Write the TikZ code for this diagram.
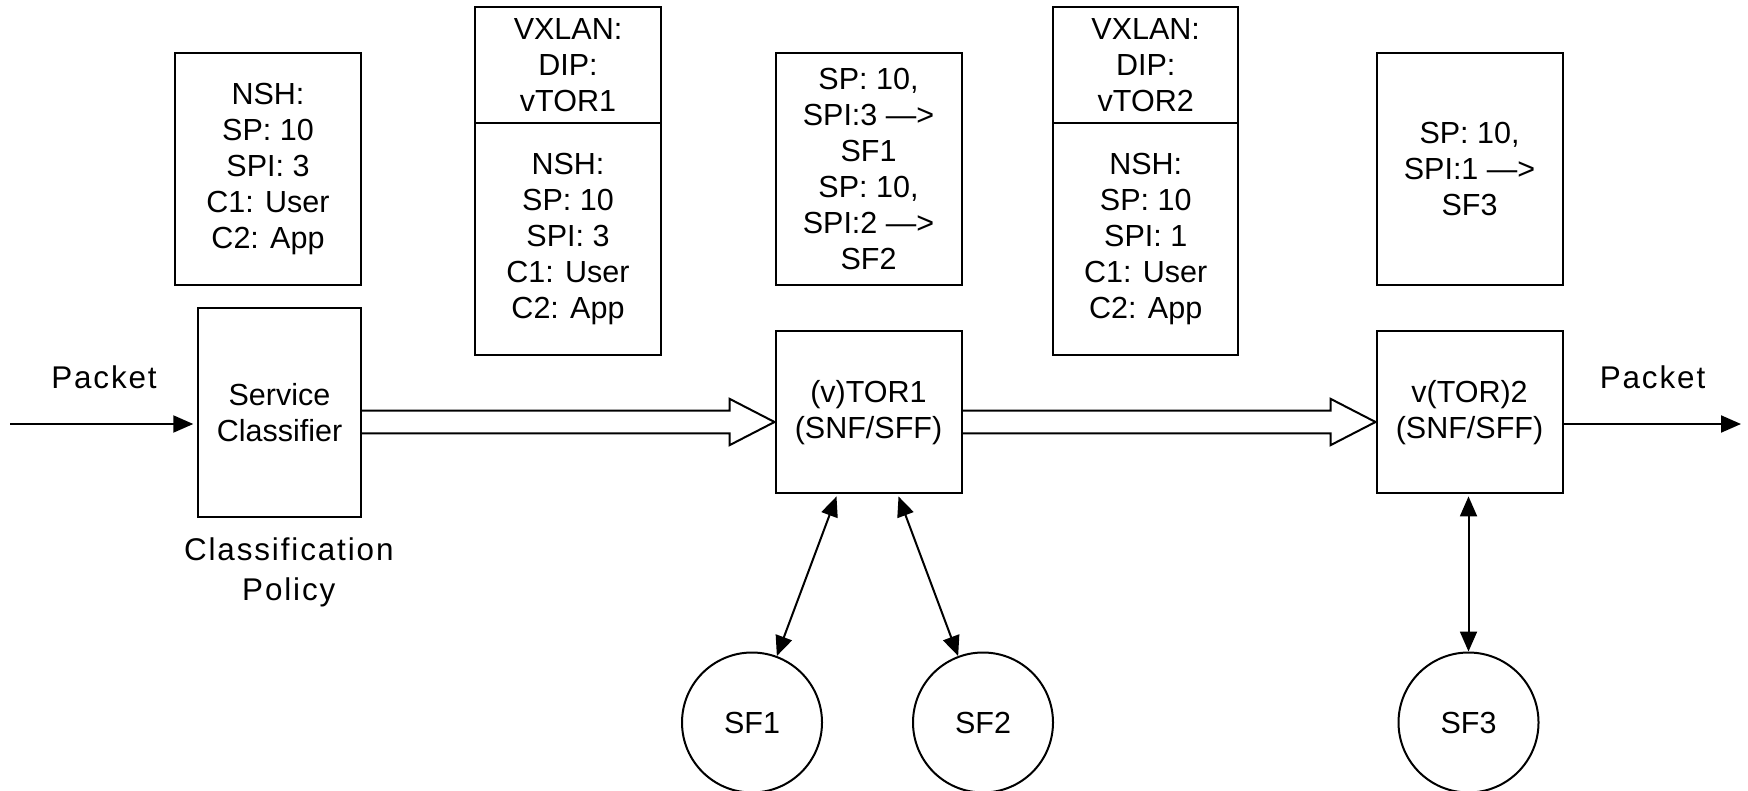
\documentclass[tikz,border=0pt]{standalone}
\usepackage{fontspec}
\setmainfont{Liberation Sans}
\newfontfamily\lblfont[LetterSpace=6]{Liberation Sans}
\usetikzlibrary{calc,arrows.meta}
\newcommand\boxfnt{\fontsize{15.25pt}{18pt}\selectfont}
\newcommand\lblfnt{\lblfont\fontsize{15.7pt}{20pt}\selectfont}
\begin{document}
\begin{tikzpicture}[x=0.5pt,y=-0.5pt,
  box/.style={draw,line width=1pt,rectangle,inner sep=0pt,align=center,font=\boxfnt},
  sfc/.style={draw,line width=1pt,circle,inner sep=0pt,minimum size=70pt,font=\boxfnt},
  lbl/.style={inner sep=0pt,align=center,font=\lblfnt},
  conn/.style={line width=1pt},
  tip/.style={-{Triangle[length=10pt,width=8.5pt]}},
  dtip/.style={{Triangle[length=10pt,width=8.5pt]}-{Triangle[length=10pt,width=8.5pt]}},
  hollow/.style={line width=1pt,line join=miter}]
\useasboundingbox (0,0) rectangle (1748,791);
% top header boxes
\node[box,minimum width=93pt,minimum height=116.3pt] (nsh1) at (268,169) {NSH:\\SP: 10\\SPI: 3\\C1: User\\C2: App};
\node[box,minimum width=92.7pt,minimum height=58.3pt] (vx1a) at (568,65) {VXLAN:\\DIP:\\vTOR1};
\node[box,minimum width=92.7pt,minimum height=115.9pt] (vx1b) at (568,239.2) {NSH:\\SP: 10\\SPI: 3\\C1: User\\C2: App};
\node[box,minimum width=93pt,minimum height=116.3pt] (sp) at (868.5,169) {SP: 10,\\SPI:3 --->\\SF1\\SP: 10,\\SPI:2 --->\\SF2};
\node[box,minimum width=92.7pt,minimum height=58.3pt] (vx2a) at (1145.7,65) {VXLAN:\\DIP:\\vTOR2};
\node[box,minimum width=92.7pt,minimum height=115.9pt] (vx2b) at (1145.7,239.2) {NSH:\\SP: 10\\SPI: 1\\C1: User\\C2: App};
\node[box,minimum width=93pt,minimum height=116.3pt] (sf3box) at (1469.5,169) {SP: 10,\\SPI:1 --->\\SF3};
% main row
\node[box,minimum width=81.2pt,minimum height=104.2pt] (sc) at (279.5,412.5) {Service\\Classifier};
\node[box,minimum width=93pt,minimum height=81.2pt] (vtor1) at (868.5,412.2) {(v)TOR1\\(SNF/SFF)};
\node[box,minimum width=93pt,minimum height=81.2pt] (vtor2) at (1469.5,412.2) {v(TOR)2\\(SNF/SFF)};
% service functions
\node[sfc] (sf1) at (752,722.5) {SF1};
\node[sfc] (sf2) at (983,722.5) {SF2};
\node[sfc] (sf3) at (1468.5,722.5) {SF3};
% labels
\node[lbl,anchor=base] (pin) at (104,388.3) {Packet};
\node[lbl,anchor=base] (pout) at (1652.5,388.3) {Packet};
\node[lbl] (pol) at (288.8,572) {Classification\\Policy};
% connectors
\coordinate (ml) at (0,422);
\coordinate (src) at (10,424);
\coordinate (dst) at (1741,424);
\draw[conn,tip] (src) -- ($(sc.west|-src)+(-4,0)$);
\draw[conn,tip] (vtor2.east|-dst) -- (dst);
\draw[hollow] ($(sc.east|-ml)+(0,-11.3)$) -- ($(vtor1.west|-ml)+(-45,-11.3)$) -- ++(0,-11.9) -- (vtor1.west|-ml) -- ($(vtor1.west|-ml)+(-45,23.2)$) -- ++(0,-11.9) -- ($(sc.east|-ml)+(0,11.3)$);
\draw[hollow] ($(vtor1.east|-ml)+(0,-11.3)$) -- ($(vtor2.west|-ml)+(-45,-11.3)$) -- ++(0,-11.9) -- (vtor2.west|-ml) -- ($(vtor2.west|-ml)+(-45,23.2)$) -- ++(0,-11.9) -- ($(vtor1.east|-ml)+(0,11.3)$);
\draw[conn,dtip] ($(vtor1.south)+(-32,2)$) -- (sf1);
\draw[conn,dtip] ($(vtor1.south)+(30,2)$) -- (sf2);
\draw[conn,dtip] ($(vtor2.south)+(-1,2)$) -- (sf3);
\end{tikzpicture}
\end{document}
